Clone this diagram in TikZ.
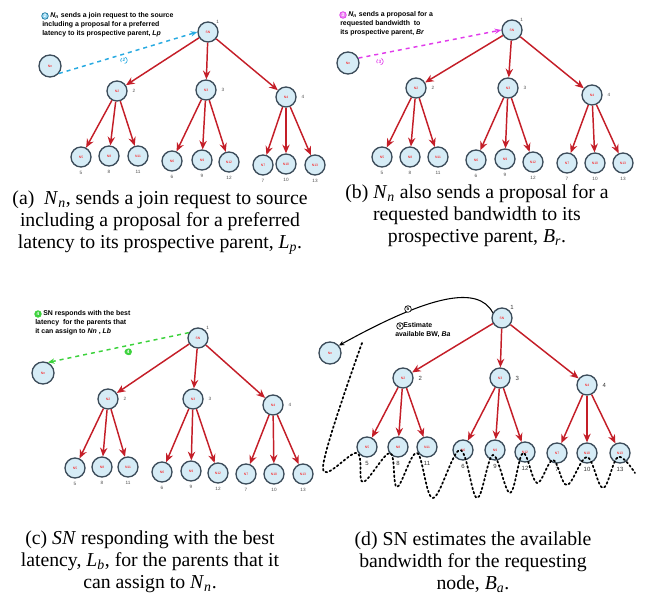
\documentclass[tikz,border=0pt]{standalone}
\usepackage{fontspec}
\setmainfont{Liberation Serif}
\setsansfont{Liberation Sans}
\usetikzlibrary{arrows.meta,positioning}

\definecolor{peerfill}{RGB}{214,236,246}
\definecolor{peeredge}{RGB}{60,76,90}
\definecolor{linkred}{RGB}{196,30,40}
\definecolor{joinblue}{RGB}{40,170,225}
\definecolor{propmag}{RGB}{225,60,235}
\definecolor{replygreen}{RGB}{60,210,60}

\newcommand{\ital}[2]{\textit{#1}\textsubscript{\textit{#2}}}

% one overlay tree: prefix, root position, middle peers, leaf peers
\newcommand{\peertree}[4]{%
  \node[peer] (#1-sn) at (#2) {SN};
  \node[tag, above right=0pt of #1-sn] {1};
  \foreach \x/\y/\n in {#3}{
    \node[peer] (#1-m\n) at (\x,\y) {N\n};
    \node[tag, right=3pt of #1-m\n] {\n};
    \draw[link] (#1-sn) -- (#1-m\n);
  }
  \foreach \x/\y/\n/\p in {#4}{
    \node[peer] (#1-l\n) at (\x,\y) {N\n};
    \node[tag, below=2pt of #1-l\n] {\n};
    \draw[link] (#1-m\p) -- (#1-l\n);
  }
}

\begin{document}
\begin{tikzpicture}[x=0.75pt, y=-0.75pt]
\tikzstyle{peer}=[circle, draw=peeredge, fill=peerfill, line width=1pt, minimum size=15pt, inner sep=0pt, text=red, font=\fontsize{2.5}{3}\selectfont\sffamily]
\tikzstyle{newpeer}=[peer, minimum size=16.5pt]
\tikzstyle{link}=[-{Stealth[length=6.5pt,width=5.5pt]}, draw=linkred, line width=1.1pt]
\tikzstyle{tag}=[inner sep=0.5pt, text=black!70, font=\fontsize{3.5}{4}\selectfont\sffamily]
\tikzstyle{note}=[anchor=north west, align=left, inner sep=0pt, font=\fontsize{5.2}{7}\selectfont\sffamily\bfseries]
\tikzstyle{stepmark}=[circle, draw, line width=0.5pt, inner sep=0pt, minimum size=5pt, font=\fontsize{3.5}{4}\selectfont\sffamily\bfseries]
\tikzstyle{msg}=[-{Stealth[length=5pt,width=4pt]}, dashed, line width=1.1pt]
\tikzstyle{trail}=[dotted, line width=1.3pt, line cap=round]
\tikzstyle{caption}=[align=center, inner sep=0pt, font=\fontsize{14.8}{16.5}\selectfont]

\useasboundingbox (0,0) rectangle (645,596);

% (a) join request
\peertree{a}{208,32}{117/91/2, 206/90/3, 286/97/4}{81/157/5/2, 109/156/8/2, 138/156/11/2, 172/161/6/3, 202/160/9/3, 229/162/12/3, 263/165/7/4, 286/164/10/4, 315/165/13/4}
\node[newpeer] (a-nn) at (50,66) {Nn};
\node[stepmark, fill=joinblue!50, draw=joinblue!70!black, text=white] (a-icon) at (45,16) {2};
\node[note] (a-note) at (42,12) {\hspace{6pt}\ital{N}{n} sends a join request to the source\\ including a proposal for a preferred\\ latency to its prospective parent, \textit{Lp}};
\draw[msg, joinblue] (a-nn.-40) -- node[stepmark, draw=joinblue, fill=white, text=joinblue, pos=0.47, below=2pt] {2} (a-sn.west);

% (b) bandwidth proposal
\peertree{b}{512,30}{416/88/2, 508/88/3, 592/95/4}{382/157/5/2, 410/157/8/2, 438/157/11/2, 476/160/6/3, 505/159/9/3, 533/162/12/3, 567/163/7/4, 595/163/10/4, 623/163/13/4}
\node[newpeer] (b-nn) at (348,63) {Nn};
\node[stepmark, fill=propmag!60, draw=propmag, text=white] (b-icon) at (343,15) {3};
\node[note] (b-note) at (340,11) {\hspace{6pt}\ital{N}{n} sends a proposal for a\\ requested bandwidth \ to\\ its prospective parent, \textit{Br}};
\draw[msg, propmag] (b-nn.25) -- node[stepmark, draw=propmag, fill=white, text=propmag, pos=0.15, below=3pt] {3} (b-sn.west);

% (c) best latency reply
\peertree{c}{198,338}{108/399/2, 193/399/3, 273/405/4}{75/468/5/2, 102/467/8/2, 128/467/11/2, 162/472/6/3, 191/471/9/3, 218/473/12/3, 246/474/7/4, 274/474/10/4, 303/474/13/4}
\node[newpeer] (c-nn) at (43,373) {Nn};
\node[stepmark, fill=replygreen, draw=replygreen, text=white] (c-icon) at (38,314) {4};
\node[note] (c-note) at (35,310) {\hspace{6pt}SN responds with the best\\ latency \ for the parents that\\ it can assign to \textit{Nn} , \textit{Lb}};
\draw[msg, replygreen] (c-sn.150) -- node[stepmark, fill=replygreen, draw=replygreen, text=white, pos=0.43, below=2pt] {4} (c-nn.65);

% (d) bandwidth estimate
\begin{scope}[tag/.append style={font=\fontsize{4.5}{5}\selectfont\sffamily, text=black!80}]
\peertree{d}{502,318}{403/378/2, 500/378/3, 587/385/4}{367/447/5/2, 398/447/8/2, 427/447/11/2, 463/450/6/3, 495/450/9/3, 525/452/12/3, 557/453/7/4, 587/453/10/4, 620/453/13/4}
\end{scope}
\node[newpeer] (d-nn) at (330,353) {Nn};
\draw[-{Stealth[length=4pt,width=3.5pt]}, line width=0.8pt] (d-sn.150) .. controls (478,285) and (430,295) .. (d-nn.40);
\node[stepmark, fill=white] (d-mark) at (408,309) {5};
\node[stepmark, fill=white] (d-icon) at (400,326) {5};
\node[note] (d-note) at (395,322) {\hspace{6pt}Estimate\\ available BW, \textit{Ba}};
\draw[trail] plot[smooth, tension=0.6] coordinates {(362,343) (323,467) (357,453) (363,482) (390,453) (397,487) (417,453) (433,498) (460,450) (477,498) (493,455) (510,493) (523,453) (537,483) (553,460) (567,485) (587,457) (603,488) (618,457) (635,473)};

% captions
\node[caption] (a-cap) at (160,223) {(a)\ \ \ital{N}{n}, sends a join request to source\\ including a proposal for a preferred\\ latency to its prospective parent, \ital{L}{p}.};
\node[caption] (b-cap) at (477,216) {(b) \ital{N}{n} also sends a proposal for a\\ requested bandwidth to its\\ prospective parent, \ital{B}{r}.};
\node[caption] (c-cap) at (150,562) {(c) \textit{SN} responding with the best\\ latency, \ital{L}{b}, for the parents that it\\ can assign to \ital{N}{n}.};
\node[caption] (d-cap) at (473,562) {(d) SN estimates the available\\ bandwidth for the requesting\\ node, \ital{B}{a}.};
\end{tikzpicture}
\end{document}
